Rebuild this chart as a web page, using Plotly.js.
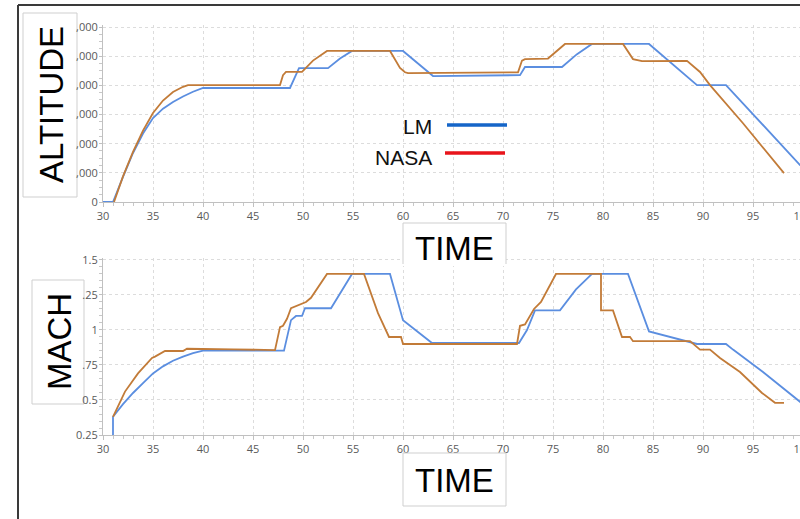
<!DOCTYPE html>
<html>
<head>
<meta charset="utf-8">
<script src="https://cdn.plot.ly/plotly-3.0.1.min.js"></script>
<style>
html,body{margin:0;padding:0;overflow:hidden;background:#fff;width:800px;height:519px;}
#chart{width:840px;height:519px;}
</style>
</head>
<body>
<div id="chart"></div>
<script>
// ---- Data ----
const altLM_t   = [30,31,32,33,34,35,36,37,38,39,40,48.7,49.6,52.5,53.7,54.9,60,63,71.7,72.2,75.9,77.4,78.9,84.6,89.4,92.3,99.7,100];
const altLM_v   = [0,0,0.86,1.68,2.35,2.88,3.2,3.43,3.62,3.78,3.91,3.91,4.59,4.59,4.92,5.18,5.18,4.32,4.35,4.63,4.63,5.07,5.42,5.42,4.01,4.01,1.27,1.2];
const altNASA_t = [31.1,32,33,34,35,36,37,38,38.5,47.7,48.0,48.3,49.9,51,52.4,58.7,59.7,60.2,60.5,71.5,71.9,72.2,74.5,76.2,82.0,83.0,83.9,88.4,89.7,90.7,94,98.1];
const altNASA_v = [0,0.88,1.72,2.45,3.05,3.48,3.77,3.95,4.01,4.01,4.35,4.46,4.46,4.85,5.18,5.18,4.6,4.45,4.42,4.45,4.85,4.9,4.92,5.42,5.42,4.9,4.83,4.84,4.46,4.01,2.7,0.99];

const machLM_t   = [31,31,32,33,34,35,36,37,38,39,40,48.1,48.8,49.3,49.9,50.2,52.8,53.9,54.9,58.7,60,62.9,71.6,72.4,73.2,75.7,77.3,78.9,82.5,84.6,89.4,92.3,93,96,99.7,100];
const machLM_v   = [0.25,0.38,0.47,0.55,0.62,0.69,0.74,0.78,0.81,0.835,0.852,0.852,1.07,1.10,1.10,1.155,1.155,1.28,1.40,1.40,1.07,0.907,0.907,1.0,1.14,1.14,1.29,1.40,1.40,0.99,0.90,0.90,0.86,0.70,0.49,0.47];
const machNASA_t = [31,32.2,33.5,34.9,35.2,36.2,38.0,38.4,43,47.2,47.7,48.0,48.4,48.8,50.3,50.8,52.4,56.1,57.5,58.6,59.8,60,71.4,71.7,72.2,72.7,73.1,73.8,75.3,79.8,79.8,81,81.9,82.7,83,88.7,89.7,90.7,91.7,93.7,95,95.9,97.2,98.1];
const machNASA_v = [0.38,0.56,0.69,0.80,0.81,0.85,0.85,0.866,0.862,0.856,1.02,1.03,1.08,1.155,1.20,1.23,1.40,1.40,1.12,0.95,0.95,0.90,0.90,1.03,1.04,1.10,1.15,1.20,1.40,1.40,1.14,1.14,0.95,0.95,0.92,0.92,0.86,0.86,0.80,0.70,0.61,0.55,0.48,0.48];

const xTicks = [30,35,40,45,50,55,60,65,70,75,80,85,90,95,100];
const altTickVals = [0,1,2,3,4,5,6];
const altTickText = ['0',',000',',000',',000',',000',',000',',000'];
const machTickVals = [0.25,0.5,0.75,1,1.25,1.5];
const machTickText = ['0.25','0.5','.75','1','.25','1.5'];
const seriesNames = ['LM','NASA'];

// ---- Layout helpers ----
const W = 840, H = 519;
const px = x => x / W;
const py = y => 1 - y / H;

const colLM = '#5B8EE0', colNASA = '#C27B38';
const tickFont = {family: 'Open Sans, Noto Sans, sans-serif', size: 11, color: '#595959'};

const xaxisBase = {
  range: [30, 100], tickvals: xTicks, showgrid: true, gridcolor: '#dcdcdc', griddash: 'dot',
  showline: true, linecolor: '#c0c0c0', linewidth: 1, ticks: 'outside', ticklen: 4, tickcolor: '#c0c0c0',
  minor: {dtick: 1, ticks: 'outside', ticklen: 3, tickcolor: '#c8c8c8', showgrid: false},
  tickfont: tickFont, zeroline: false, fixedrange: true, domain: [px(103), px(803)]
};

const traces = [
  {x: altLM_t, y: altLM_v, name: seriesNames[0], mode: 'lines', line: {color: colLM, width: 1.8}, xaxis: 'x', yaxis: 'y'},
  {x: altNASA_t, y: altNASA_v, name: seriesNames[1], mode: 'lines', line: {color: colNASA, width: 1.8}, xaxis: 'x', yaxis: 'y'},
  {x: machLM_t, y: machLM_v, name: seriesNames[0], mode: 'lines', line: {color: colLM, width: 1.8}, xaxis: 'x2', yaxis: 'y2'},
  {x: machNASA_t, y: machNASA_v, name: seriesNames[1], mode: 'lines', line: {color: colNASA, width: 1.8}, xaxis: 'x2', yaxis: 'y2'}
];

const boxLine = {color: '#cfcfcf', width: 1};
const shapes = [
  // outer frame
  {type: 'line', xref: 'paper', yref: 'paper', x0: px(18), x1: px(18), y0: py(5), y1: py(519), line: {color: '#3a3a3a', width: 2}},
  {type: 'line', xref: 'paper', yref: 'paper', x0: px(18), x1: px(840), y0: py(5), y1: py(5), line: {color: '#3a3a3a', width: 2}},
  // ALTITUDE box
  {type: 'rect', layer: 'below', xref: 'paper', yref: 'paper', x0: px(23), x1: px(77), y0: py(197), y1: py(13), line: boxLine, fillcolor: '#fff'},
  // MACH box
  {type: 'rect', layer: 'below', xref: 'paper', yref: 'paper', x0: px(32), x1: px(84), y0: py(404), y1: py(280), line: boxLine, fillcolor: '#fff'},
  // top TIME box (bottom edge hidden)
  {type: 'rect', xref: 'paper', yref: 'paper', x0: px(403), x1: px(506), y0: py(266), y1: py(223), line: {width: 0}, fillcolor: '#fff'},
  {type: 'path', xref: 'paper', yref: 'paper', path: `M ${px(403)} ${py(264)} L ${px(403)} ${py(223)} L ${px(506)} ${py(223)} L ${px(506)} ${py(264)}`, line: boxLine},
  // bottom TIME box
  {type: 'rect', xref: 'paper', yref: 'paper', x0: px(403), x1: px(506), y0: py(506), y1: py(453), line: boxLine, fillcolor: '#fff'},
  // legend lines
  {type: 'line', xref: 'paper', yref: 'paper', x0: px(447), x1: px(507), y0: py(125), y1: py(125), line: {color: '#1565C8', width: 3.5}},
  {type: 'line', xref: 'paper', yref: 'paper', x0: px(445), x1: px(505), y0: py(153), y1: py(153), line: {color: '#E8141B', width: 3.5}}
];

const bigFont = {family: 'Liberation Sans, Arial, sans-serif', size: 33, color: '#000'};
const legFont = {family: 'Liberation Sans, Arial, sans-serif', size: 21, color: '#111'};
const annotations = [
  {xref: 'paper', yref: 'paper', x: px(51), y: py(105), text: 'ALTITUDE', showarrow: false, textangle: -90, font: bigFont, xanchor: 'center', yanchor: 'middle'},
  {xref: 'paper', yref: 'paper', x: px(59), y: py(342), text: 'MACH', showarrow: false, textangle: -90, font: bigFont, xanchor: 'center', yanchor: 'middle'},
  {xref: 'paper', yref: 'paper', x: px(454), y: py(249), text: 'TIME', showarrow: false, font: bigFont, xanchor: 'center', yanchor: 'middle'},
  {xref: 'paper', yref: 'paper', x: px(454), y: py(480), text: 'TIME', showarrow: false, font: bigFont, xanchor: 'center', yanchor: 'middle'},
  {xref: 'paper', yref: 'paper', x: px(434), y: py(126), text: seriesNames[0], showarrow: false, font: legFont, xanchor: 'right', yanchor: 'middle'},
  {xref: 'paper', yref: 'paper', x: px(434), y: py(157), text: seriesNames[1], showarrow: false, font: legFont, xanchor: 'right', yanchor: 'middle'}
];

const yBase = {
  showgrid: true, gridcolor: '#dcdcdc', griddash: 'dot', showline: true, linecolor: '#c0c0c0',
  ticks: 'outside', ticklen: 3, tickcolor: '#c0c0c0', tickfont: tickFont, zeroline: false, fixedrange: true,
  ticklabelstandoff: -1
};

const layout = {
  width: W, height: H, margin: {l: 0, r: 0, t: 0, b: 0},
  paper_bgcolor: '#fff', plot_bgcolor: 'rgba(0,0,0,0)', showlegend: false,
  xaxis: Object.assign({}, xaxisBase, {anchor: 'y'}),
  yaxis: Object.assign({}, yBase, {
    domain: [py(202), py(25)], range: [0, 6.07], tickvals: altTickVals, ticktext: altTickText,
    minor: {dtick: 0.25, ticks: 'outside', ticklen: 3, tickcolor: '#c8c8c8', showgrid: false}, anchor: 'x'
  }),
  xaxis2: Object.assign({}, xaxisBase, {anchor: 'y2'}),
  yaxis2: Object.assign({}, yBase, {
    domain: [py(435), py(258)], range: [0.25, 1.514], tickvals: machTickVals, ticktext: machTickText,
    minor: {dtick: 0.05, ticks: 'outside', ticklen: 3, tickcolor: '#c8c8c8', showgrid: false}, anchor: 'x2'
  }),
  shapes: shapes,
  annotations: annotations
};

Plotly.newPlot('chart', traces, layout, {displayModeBar: false, staticPlot: true});
</script>
</body>
</html>
